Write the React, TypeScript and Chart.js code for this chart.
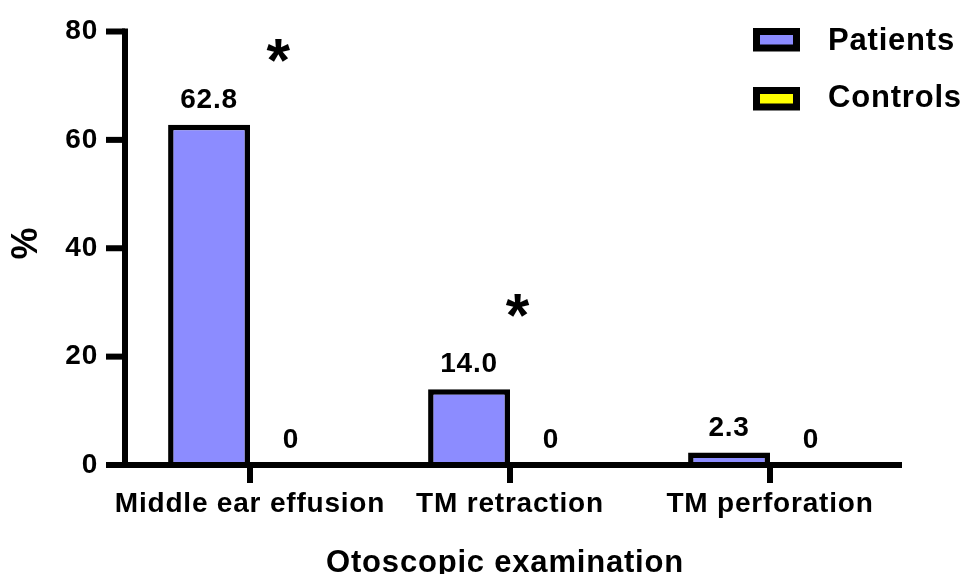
import React, { useEffect, useRef } from 'react';
import { Chart, registerables } from 'chart.js';

Chart.register(...registerables);

// ---- data ----
const categories = ['Middle ear effusion', 'TM retraction', 'TM perforation'];
const seriesNames = ['Patients', 'Controls'];
const patients = [62.8, 14.0, 2.3];
const controls = [0, 0, 0];
const yTicks = [0, 20, 40, 60, 80];
// significance markers: category index, value height, shift within category
const sigCategory = [0, 1];
const sigValue = [76.5, 29.5];
const sigShift = [0.11, 0.03];
const xTitle = 'Otoscopic examination';
const yTitle = '%';

const FONT = '"Liberation Sans", Arial, Helvetica, sans-serif';
const COLORS = ['#8c8cff', '#ffff00'];
const SPACING = '0.8px';

const fmt = (v: number) => (v === 0 ? '0' : v.toFixed(1));

const decor = {
  id: 'decor',
  beforeDraw(chart: any) {
    (chart.ctx as any).letterSpacing = SPACING;
  },
  afterDatasetsDraw(chart: any) {
    const ctx: CanvasRenderingContext2D = chart.ctx;
    const xs = chart.scales.x;
    const ys = chart.scales.y;
    const area = chart.chartArea;
    ctx.save();
    (ctx as any).letterSpacing = SPACING;
    ctx.fillStyle = '#000';
    const lw = 6;
    const axisX = area.left + 5;
    const y0 = ys.getPixelForValue(0);
    const yTop = ys.getPixelForValue(yTicks[yTicks.length - 1]);
    const leftEnd = area.left - 14;
    // y axis
    ctx.fillRect(axisX - lw / 2, yTop - lw / 2, lw, y0 - yTop + lw);
    // x axis
    ctx.fillRect(leftEnd, y0 - lw / 2, area.right + 2 - leftEnd, lw);
    // y ticks
    yTicks.forEach((v) => {
      const py = ys.getPixelForValue(v);
      ctx.fillRect(leftEnd, py - lw / 2, axisX - leftEnd, lw);
    });
    // x ticks
    categories.forEach((_, i) => {
      const px = xs.getPixelForValue(i);
      ctx.fillRect(px - lw / 2, y0, lw, 18);
    });

    // value labels
    ctx.font = `bold 28px ${FONT}`;
    ctx.textAlign = 'center';
    ctx.textBaseline = 'alphabetic';
    chart.data.datasets.forEach((ds: any, di: number) => {
      const meta = chart.getDatasetMeta(di);
      meta.data.forEach((bar: any, i: number) => {
        ctx.fillText(fmt(ds.data[i]), bar.x, bar.y - 17);
      });
    });

    // asterisks
    (ctx as any).letterSpacing = '0px';
    ctx.font = `bold 100px ${FONT}`;
    const m0 = ctx.measureText('*');
    const h0 = m0.actualBoundingBoxAscent + m0.actualBoundingBoxDescent;
    const size = (100 * 23) / h0;
    ctx.font = `bold ${size}px ${FONT}`;
    ctx.textAlign = 'left';
    const m = ctx.measureText('*');
    sigCategory.forEach((c, k) => {
      const cx = xs.getPixelForValue(c + sigShift[k]);
      const cy = ys.getPixelForValue(sigValue[k]);
      const bx = cx - (m.actualBoundingBoxRight - m.actualBoundingBoxLeft) / 2;
      const by = cy + (m.actualBoundingBoxAscent - m.actualBoundingBoxDescent) / 2;
      ctx.fillText('*', bx, by);
    });
    (ctx as any).letterSpacing = SPACING;

    // legend
    const boxX = 753, boxW = 47, boxH = 23.5, border = 7;
    const boxTops = [28, 87];
    const textBase = [50, 107];
    ctx.font = `bold 31px ${FONT}`;
    ctx.textAlign = 'left';
    seriesNames.forEach((name, i) => {
      ctx.fillStyle = '#000';
      ctx.fillRect(boxX, boxTops[i], boxW, boxH);
      ctx.fillStyle = COLORS[i];
      ctx.fillRect(boxX + border, boxTops[i] + border, boxW - 2 * border, boxH - 2 * border);
      ctx.fillStyle = '#000';
      ctx.fillText(name, 828, textBase[i]);
    });

    // axis titles
    ctx.font = `bold 31px ${FONT}`;
    ctx.textAlign = 'center';
    ctx.fillText(xTitle, (area.left + area.right) / 2 - 5, 572);

    ctx.save();
    ctx.translate(27, 243);
    ctx.rotate(-Math.PI / 2);
    ctx.font = `bold 36px ${FONT}`;
    ctx.textBaseline = 'middle';
    ctx.textAlign = 'center';
    ctx.fillText(yTitle, 0, 0);
    ctx.restore();

    ctx.restore();
  },
};

export default function App() {
  const ref = useRef<HTMLCanvasElement>(null);
  useEffect(() => {
    const chart = new Chart(ref.current as HTMLCanvasElement, {
      type: 'bar',
      data: {
        labels: categories,
        datasets: [
          {
            label: seriesNames[0],
            data: patients,
            backgroundColor: COLORS[0],
            borderColor: '#000',
            borderWidth: 5.5,
            borderSkipped: 'start',
            categoryPercentage: 0.63,
            barPercentage: 1,
          },
          {
            label: seriesNames[1],
            data: controls,
            backgroundColor: COLORS[1],
            borderColor: '#000',
            borderWidth: 5.5,
            borderSkipped: 'start',
            categoryPercentage: 0.63,
            barPercentage: 1,
          },
        ],
      },
      options: {
        responsive: false,
        devicePixelRatio: 1,
        animation: false,
        layout: { padding: { left: 0, right: 71, top: 31.5, bottom: 0 } },
        plugins: {
          legend: { display: false },
          tooltip: { enabled: false },
        },
        scales: {
          x: {
            grid: { display: false, drawTicks: false },
            border: { display: false },
            ticks: {
              color: '#000',
              padding: 22,
              maxRotation: 0,
              autoSkip: false,
              font: { family: FONT, size: 28, weight: 'bold' },
            },
            afterFit: (s: any) => {
              s.height = 109;
              s.paddingLeft = 0;
              s.paddingRight = 0;
            },
          },
          y: {
            min: 0,
            max: 80,
            grid: { display: false, drawTicks: false },
            border: { display: false },
            ticks: {
              stepSize: 20,
              color: '#000',
              padding: 22,
              font: { family: FONT, size: 28, weight: 'bold' },
            },
            afterFit: (s: any) => {
              s.width = 120;
              s.paddingTop = 0;
              s.paddingBottom = 0;
            },
          },
        },
      },
      plugins: [decor],
    } as any);
    return () => chart.destroy();
  }, []);
  return (
    <div style={{ position: 'fixed', left: 0, top: 0, width: 971, height: 574, background: '#fff' }}>
      <canvas ref={ref} width={971} height={574} style={{ display: 'block', width: 971, height: 574 }} />
    </div>
  );
}
